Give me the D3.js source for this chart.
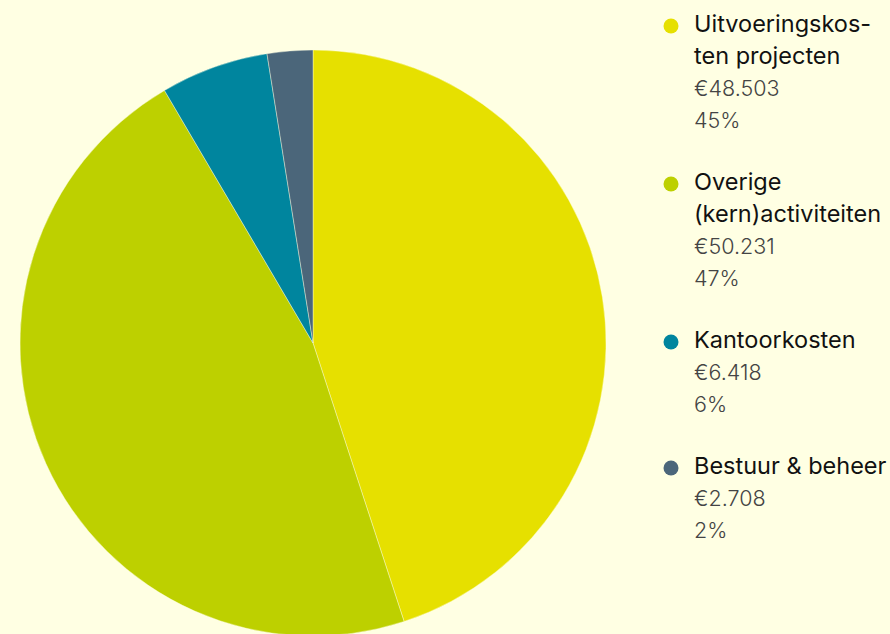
<!DOCTYPE html>
<html>
<head>
<meta charset="utf-8">
<script src="https://cdn.jsdelivr.net/npm/d3@7"></script>
<style>
  html, body { margin: 0; padding: 0; background: #ffffe3; overflow: hidden; }
  svg { display: block; }
</style>
</head>
<body>
<svg id="chart" width="890" height="634"></svg>
<script>
const categories = [
  ["Uitvoeringskos-", "ten projecten"],
  ["Overige", "(kern)activiteiten"],
  ["Kantoorkosten"],
  ["Bestuur & beheer"],
];
const values = [48503, 50231, 6418, 2708];
const valueLabels = ["€48.503", "€50.231", "€6.418", "€2.708"];
const percentLabels = ["45%", "47%", "6%", "2%"];
const colors = ["#e6e000", "#bdd000", "#00859e", "#4b667a"];

const settings = {
  cx: 313,
  cy: 343,
  radius: 293,
  legendX: 671,
  textX: 694,
  firstBaseline: 32,
  lineHeight: 32,
  groupGap: 30,
};

const svg = d3.select("#chart");

const pie = d3.pie().sort(null).value((d) => d);
const arc = d3.arc().innerRadius(0).outerRadius(settings.radius);

svg
  .append("g")
  .attr("class", "slices")
  .attr("transform", `translate(${settings.cx}, ${settings.cy})`)
  .selectAll("path")
  .data(pie(values))
  .join("path")
  .attr("d", arc)
  .attr("fill", (d, i) => colors[i])
  .attr("stroke", "#ffffe3")
  .attr("stroke-width", 0.4);

// legend, one block per category
const legend = svg.append("g").attr("class", "legend");
let y = settings.firstBaseline;
categories.forEach((lines, i) => {
  const g = legend.append("g");
  g.append("circle")
    .attr("cx", settings.legendX)
    .attr("cy", y - 6)
    .attr("r", 7.5)
    .attr("fill", colors[i]);

  const rows = lines
    .map((t) => ({ t, title: true }))
    .concat([
      { t: valueLabels[i], title: false },
      { t: percentLabels[i], title: false },
    ]);

  rows.forEach((r) => {
    g.append("text")
      .attr("x", settings.textX)
      .attr("y", y)
      .attr("font-family", "Inter, 'Noto Sans', sans-serif")
      .attr("font-size", r.title ? "23.5px" : "21.5px")
      .attr("font-weight", r.title ? 400 : 300)
      .attr("fill", r.title ? "#111" : "#444")
      .text(r.t);
    y += settings.lineHeight;
  });
  y += settings.groupGap;
});
</script>
</body>
</html>
